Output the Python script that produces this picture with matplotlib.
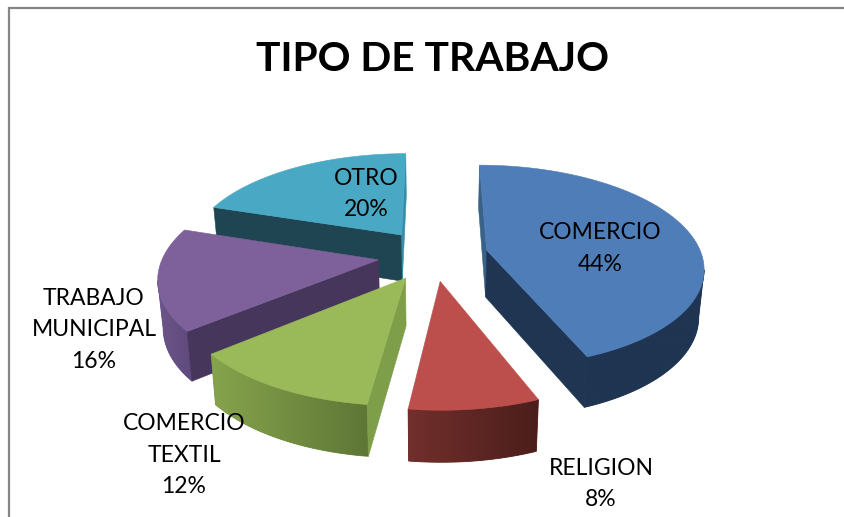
import numpy as np
import matplotlib
matplotlib.use("Agg")
import matplotlib.pyplot as plt
from matplotlib.patches import Polygon
from matplotlib.colors import to_rgb

plt.rcParams['font.family'] = ['Lato', 'DejaVu Sans']

# Datos del grafico
categorias = ['COMERCIO', 'RELIGION', 'COMERCIO\nTEXTIL', 'TRABAJO\nMUNICIPAL', 'OTRO']
valores = [44, 8, 12, 16, 20]
titulo = 'TIPO DE TRABAJO'

# Colores: cara superior, caras de corte, borde curvo (izquierda, derecha)
col_top = ['#4F7DB8', '#BC4F4B', '#9ABA59', '#7E619B', '#49A9C4']
col_cut = [['#3A6187', '#1F3552'], ['#6E2D2B', '#6E2D2B'], ['#7F9E49', '#7F9E49'],
           ['#47365C', '#47365C'], ['#1F4552', '#378CA6']]
col_rim = [('#1F3552', '#1F3552'), ('#722F2C', '#4B1E1B'), ('#86A44C', '#5E7636'),
           ('#6C5689', '#5F4A7D'), ('#1F4552', '#1F4552')]
orden = [4, 3, 0, 2, 1]  # de atras hacia adelante

# Posicion de las etiquetas en pixeles (centro)
pos_etq = [(600, 248.5), (601, 484), (184, 455), (94, 330), (366, 194)]

# Proyeccion del pastel
cx, cy = 433, 255
rx, h, d = 215, 642, 6.44
expl = 0.256


def proy(x, v, abajo=False):
    s = d / (d - v)
    px = cx + rx * x * s
    py = cy + h * v / (d - v)
    if abajo:
        px = cx + 0.98 * (px - cx)
        py = py + 47 + 4 * v
    return px, py


def punto(ang, r, ox, ov, abajo=False):
    return proy(ox + r * np.sin(ang), ov - r * np.cos(ang), abajo)


fig = plt.figure(figsize=(8.45, 5.17), dpi=100)
ax = fig.add_axes([0, 0, 1, 1])
ax.axis('off')

# Marco del grafico
ax.plot([9, 9, 845], [517, 7.5, 7.5], color='#868686', lw=1.6, solid_joinstyle='miter')

total = sum(valores)
limites = np.radians(np.cumsum([0] + valores) / total * 360)

for n, i in enumerate(orden):
    z = 2 + n  # cada porcion tapa a las anteriores
    a0, a1 = limites[i], limites[i + 1]
    am = (a0 + a1) / 2
    ox, ov = expl * np.sin(am), -expl * np.cos(am)
    angs = np.linspace(a0, a1, 120)

    # Borde curvo: solo la parte que mira a la camara, con degradado
    frente = [a for a in angs
              if (-(ox + np.sin(a))) * np.sin(a) + (d - (ov - np.cos(a))) * (-np.cos(a)) > 0]
    if len(frente) > 1:
        arriba = [punto(a, 1, ox, ov) for a in frente]
        debajo = [punto(a, 1, ox, ov, True) for a in frente]
        c1, c2 = np.array(to_rgb(col_rim[i][0])), np.array(to_rgb(col_rim[i][1]))
        # base lisa debajo del degradado para que no queden costuras
        base = (c1 + c2) / 2
        ax.add_patch(Polygon(arriba + debajo[::-1], closed=True, fc=base, ec=base, lw=0.6, zorder=z))
        borde = Polygon(arriba + debajo[::-1], closed=True, fc='none', ec='none', zorder=z)
        ax.add_patch(borde)
        xs = [p[0] for p in arriba + debajo]
        ys = [p[1] for p in arriba + debajo]
        grad = np.linspace(0, 1, 256)[None, :, None] * (c2 - c1) + c1
        img = ax.imshow(grad, extent=[min(xs), max(xs), max(ys), min(ys)], aspect='auto',
                        interpolation='bilinear', zorder=z + 0.1)
        img.set_clip_path(borde)

    # Caras de corte visibles
    centro = proy(ox, ov)
    centro_b = proy(ox, ov, True)
    for a, col, lado in zip((a0, a1), col_cut[i], (-1, 1)):
        # normal exterior de la cara
        nx, nv = lado * np.cos(a), lado * np.sin(a)
        if (0 - ox) * nx + (d - ov) * nv > 0:
            cara = [centro, punto(a, 1, ox, ov), punto(a, 1, ox, ov, True), centro_b]
            ax.add_patch(Polygon(cara, closed=True, fc=col, ec=col, lw=0.4, zorder=z + 0.2))

    # Cara superior
    sup = [centro] + [punto(a, 1, ox, ov) for a in angs]
    ax.add_patch(Polygon(sup, closed=True, fc=col_top[i], ec=col_top[i], lw=0.4, zorder=z + 0.3))

ax.set_xlim(0, 845)
ax.set_ylim(517, 0)

# Textos
for cat, val, (x, y) in zip(categorias, valores, pos_etq):
    ax.text(x, y, f'{cat}\n{val}%', ha='center', va='center', fontsize=16.5,
            color='black', linespacing=1.64, zorder=10)

ax.text(433, 59.5, titulo, ha='center', va='center', fontsize=29.3, fontweight='bold',
        color='black', zorder=10)

fig.savefig('out.png', dpi=100)
